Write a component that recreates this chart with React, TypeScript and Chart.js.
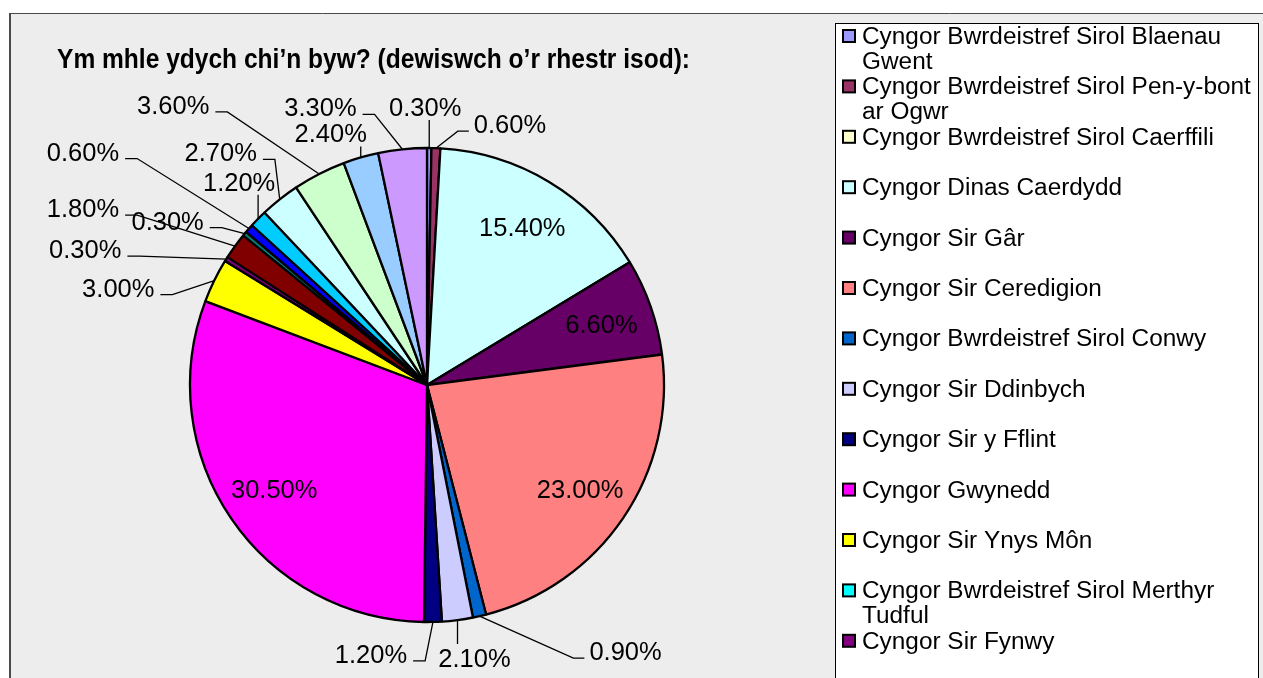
import React, { useEffect, useRef } from "react";
import { Chart, registerables } from "chart.js";

Chart.register(...registerables);

const TITLE = "Ym mhle ydych chi’n byw? (dewiswch o’r rhestr isod):";

const categories = [
  "Cyngor Bwrdeistref Sirol Blaenau Gwent",
  "Cyngor Bwrdeistref Sirol Pen-y-bont ar Ogwr",
  "Cyngor Bwrdeistref Sirol Caerffili",
  "Cyngor Dinas Caerdydd",
  "Cyngor Sir Gâr",
  "Cyngor Sir Ceredigion",
  "Cyngor Bwrdeistref Sirol Conwy",
  "Cyngor Sir Ddinbych",
  "Cyngor Sir y Fflint",
  "Cyngor Gwynedd",
  "Cyngor Sir Ynys Môn",
  "Cyngor Bwrdeistref Sirol Merthyr Tudful",
  "Cyngor Sir Fynwy",
  "Cyngor Bwrdeistref Sirol Castell-nedd Port Talbot",
  "Cyngor Dinas Casnewydd",
  "Cyngor Sir Penfro",
  "Cyngor Sir Powys",
  "Cyngor Bwrdeistref Sirol Rhondda Cynon Taf",
  "Dinas a Sir Abertawe",
  "Cyngor Bwrdeistref Sirol Torfaen",
  "Cyngor Bro Morgannwg",
  "Cyngor Bwrdeistref Sirol Wrecsam",
  "Arall",
];

const percentages = [
  0.3, 0.6, 0, 15.4, 6.6, 23.0, 0.9, 2.1, 1.2, 30.5, 3.0, 0, 0.3, 1.8, 0.3,
  0.6, 1.2, 2.7, 3.6, 0, 2.4, 0, 3.3,
];

const sliceColors = [
  "#9999FF", "#993366", "#FFFFCC", "#CCFFFF", "#660066", "#FF8080", "#0066CC",
  "#CCCCFF", "#000080", "#FF00FF", "#FFFF00", "#00FFFF", "#800080", "#800000",
  "#008080", "#0000FF", "#00CCFF", "#CCFFFF", "#CCFFCC", "#FFFF99", "#99CCFF",
  "#FF99CC", "#CC99FF",
];

// Offset of each outside label (relative to the slice's outer mid-point); null = label inside the slice
const labelOffsets: ([number, number] | null)[] = [
  [-4, -41], [74, -24], null, null, null, null, [146, 35], [17, 38], [-62, 32],
  null, [-96, 7], null, [-141, -10], [-152, -38], [-77, -13], [-166, -77],
  [-19, -37], [-59, -47], [-146, -69], null, [-30, -24], null, [-82, -42],
];

const FONT = '"Liberation Sans", Arial, sans-serif';

function drawScaledText(ctx: CanvasRenderingContext2D, text: string, x: number, y: number, sx: number) {
  ctx.save();
  ctx.translate(x, y);
  ctx.scale(sx, 1);
  ctx.fillText(text, 0, 0);
  ctx.restore();
}

function wrapWords(ctx: CanvasRenderingContext2D, text: string, maxW: number, sx: number) {
  const words = text.split(" ");
  const lines: string[] = [];
  let cur = "";
  for (const w of words) {
    const test = cur ? cur + " " + w : w;
    if (cur && ctx.measureText(test).width * sx > maxW) {
      lines.push(cur);
      cur = w;
    } else cur = test;
  }
  if (cur) lines.push(cur);
  return lines;
}

const framePlugin = {
  id: "frame",
  beforeDraw(chart: any) {
    const ctx: CanvasRenderingContext2D = chart.ctx;
    const W = chart.width;
    const H = chart.height;
    ctx.save();
    ctx.fillStyle = "#ffffff";
    ctx.fillRect(0, 0, W, H);
    ctx.fillStyle = "#EDEDED";
    ctx.fillRect(10, 13, W, H);
    ctx.strokeStyle = "#4a4a4a";
    ctx.lineWidth = 1;
    ctx.beginPath();
    ctx.moveTo(9, 13.5);
    ctx.lineTo(W, 13.5);
    ctx.stroke();
    ctx.lineWidth = 2;
    ctx.beginPath();
    ctx.moveTo(10, 13);
    ctx.lineTo(10, H);
    ctx.stroke();

    // title
    ctx.fillStyle = "#000";
    ctx.font = `bold 28px ${FONT}`;
    ctx.textBaseline = "alphabetic";
    ctx.textAlign = "left";
    const tw = ctx.measureText(TITLE).width;
    drawScaledText(ctx, TITLE, 57, 68, 633 / tw);

    // legend box
    const bx0 = 835, by0 = 23, bx1 = 1259;
    ctx.fillStyle = "#ffffff";
    ctx.fillRect(bx0, by0, bx1 - bx0, H);
    ctx.strokeStyle = "#000";
    ctx.lineWidth = 1;
    ctx.strokeRect(bx0 + 0.5, by0 + 0.5, bx1 - bx0 - 1, H + 10);

    const labels: string[] = chart.data.labels;
    const colors: string[] = chart.data.datasets[0].backgroundColor;
    const sx = 1.06;
    ctx.font = `23px ${FONT}`;
    labels.forEach((lab, i) => {
      const yc = 36 + 50.4 * i;
      if (yc > H + 30) return;
      ctx.fillStyle = colors[i];
      ctx.fillRect(843, yc - 6, 12, 12);
      ctx.strokeStyle = "#000";
      ctx.lineWidth = 2;
      ctx.strokeRect(843, yc - 6, 12, 12);
      ctx.fillStyle = "#000";
      const lines = wrapWords(ctx, lab, 395, sx);
      lines.forEach((ln, k) => drawScaledText(ctx, ln, 862, yc + 8 + 25 * k, sx));
    });
    ctx.restore();
  },
};

const labelPlugin = {
  id: "sliceLabels",
  afterDatasetsDraw(chart: any) {
    const ctx: CanvasRenderingContext2D = chart.ctx;
    const meta = chart.getDatasetMeta(0);
    const values: number[] = chart.data.datasets[0].data;
    ctx.save();
    ctx.font = `25.5px ${FONT}`;
    ctx.fillStyle = "#000";
    ctx.strokeStyle = "#000";
    ctx.lineWidth = 1.3;
    ctx.textBaseline = "alphabetic";
    ctx.textAlign = "center";
    meta.data.forEach((arc: any, i: number) => {
      const v = values[i];
      if (!v) return;
      const p = arc.getProps(["x", "y", "startAngle", "endAngle", "outerRadius"], true);
      const mid = (p.startAngle + p.endAngle) / 2;
      const text = v.toFixed(2) + "%";
      const off = labelOffsets[i];
      if (!off) {
        const r = p.outerRadius * 0.78;
        ctx.fillText(text, p.x + Math.cos(mid) * r, p.y + Math.sin(mid) * r + 9);
        return;
      }
      const ax = p.x + Math.cos(mid) * p.outerRadius;
      const ay = p.y + Math.sin(mid) * p.outerRadius;
      const lx = ax + off[0];
      const ly = ay + off[1];
      ctx.fillText(text, lx, ly + 9);
      const tw = ctx.measureText(text).width;
      const left = lx - tw / 2;
      const right = lx + tw / 2;
      ctx.beginPath();
      if (ax > right + 6) {
        ctx.moveTo(right + 6, ly + 7);
        ctx.lineTo(right + 18, ly + 7);
        ctx.lineTo(ax, ay);
      } else if (ax < left - 6) {
        ctx.moveTo(left - 5, ly + 7);
        ctx.lineTo(left - 16, ly + 7);
        ctx.lineTo(ax, ay);
      } else if (ay > ly) {
        ctx.moveTo(ax, ly + 13);
        ctx.lineTo(ax, ay);
      } else {
        ctx.moveTo(ax, ly - 14);
        ctx.lineTo(ax, ay);
      }
      ctx.stroke();
    });
    ctx.restore();
  },
};

export default function App() {
  const ref = useRef<HTMLCanvasElement>(null);
  useEffect(() => {
    const chart = new Chart(ref.current as HTMLCanvasElement, {
      type: "pie",
      data: {
        labels: categories,
        datasets: [
          {
            data: percentages,
            backgroundColor: sliceColors,
            borderColor: "#000",
            borderWidth: 2.3,
            radius: 237,
          } as any,
        ],
      },
      options: {
        responsive: false,
        animation: false,
        events: [],
        layout: { padding: { left: 187, right: 596, top: 145, bottom: 53 } },
        plugins: {
          legend: { display: false },
          title: { display: false },
          tooltip: { enabled: false },
        },
      },
      plugins: [framePlugin, labelPlugin],
    });
    return () => chart.destroy();
  }, []);
  return (
    <div
      style={{
        position: "absolute",
        left: 0,
        top: 0,
        width: 1263,
        height: 678,
        overflow: "hidden",
        background: "#fff",
      }}
    >
      <canvas ref={ref} width={1263} height={678} style={{ display: "block" }} />
    </div>
  );
}
